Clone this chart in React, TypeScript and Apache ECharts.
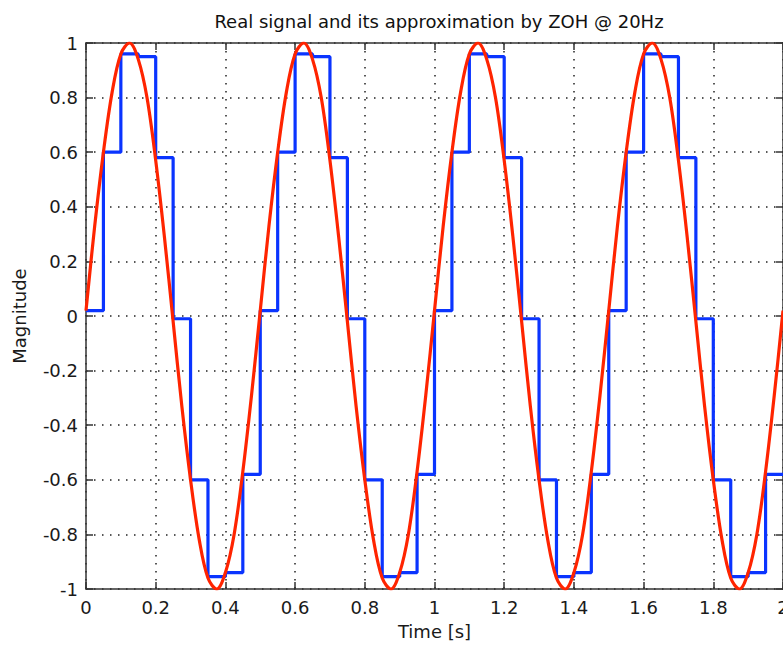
import React, { useEffect, useRef } from "react";
import * as echarts from "echarts";

const FONT = "DejaVu Sans";

const xTicks = { min: 0, max: 2, interval: 0.2 };
const yTicks = { min: -1, max: 1, interval: 0.2 };

// Zero-order-hold samples at 20 Hz (t = 0, 0.05, ... 2.0)
const zohTimes = [
  0, 0.05, 0.1, 0.15, 0.2, 0.25, 0.3, 0.35, 0.4, 0.45,
  0.5, 0.55, 0.6, 0.65, 0.7, 0.75, 0.8, 0.85, 0.9, 0.95,
  1.0, 1.05, 1.1, 1.15, 1.2, 1.25, 1.3, 1.35, 1.4, 1.45,
  1.5, 1.55, 1.6, 1.65, 1.7, 1.75, 1.8, 1.85, 1.9, 1.95, 2.0,
];
const zohValues = [
  0.02, 0.6, 0.96, 0.95, 0.58, -0.01, -0.6, -0.955, -0.94, -0.58,
  0.02, 0.6, 0.96, 0.95, 0.58, -0.01, -0.6, -0.955, -0.94, -0.58,
  0.02, 0.6, 0.96, 0.95, 0.58, -0.01, -0.6, -0.955, -0.94, -0.58,
  0.02, 0.6, 0.96, 0.95, 0.58, -0.01, -0.6, -0.955, -0.94, -0.58,
  -0.58,
];

// Real signal read every 0.025 s
const sigTimes = [
  0, 0.025, 0.05, 0.075, 0.1, 0.125, 0.15, 0.175, 0.2, 0.225,
  0.25, 0.275, 0.3, 0.325, 0.35, 0.375, 0.4, 0.425, 0.45, 0.475,
  0.5, 0.525, 0.55, 0.575, 0.6, 0.625, 0.65, 0.675, 0.7, 0.725,
  0.75, 0.775, 0.8, 0.825, 0.85, 0.875, 0.9, 0.925, 0.95, 0.975,
  1.0, 1.025, 1.05, 1.075, 1.1, 1.125, 1.15, 1.175, 1.2, 1.225,
  1.25, 1.275, 1.3, 1.325, 1.35, 1.375, 1.4, 1.425, 1.45, 1.475,
  1.5, 1.525, 1.55, 1.575, 1.6, 1.625, 1.65, 1.675, 1.7, 1.725,
  1.75, 1.775, 1.8, 1.825, 1.85, 1.875, 1.9, 1.925, 1.95, 1.975, 2.0,
];
const sigValues = [
  0.02, 0.33, 0.6, 0.82, 0.96, 1.0, 0.94, 0.8, 0.57, 0.29,
  -0.02, -0.33, -0.6, -0.82, -0.96, -1.0, -0.94, -0.8, -0.57, -0.29,
  0.02, 0.33, 0.6, 0.82, 0.96, 1.0, 0.94, 0.8, 0.57, 0.29,
  -0.02, -0.33, -0.6, -0.82, -0.96, -1.0, -0.94, -0.8, -0.57, -0.29,
  0.02, 0.33, 0.6, 0.82, 0.96, 1.0, 0.94, 0.8, 0.57, 0.29,
  -0.02, -0.33, -0.6, -0.82, -0.96, -1.0, -0.94, -0.8, -0.57, -0.29,
  0.02, 0.33, 0.6, 0.82, 0.96, 1.0, 0.94, 0.8, 0.57, 0.29,
  -0.02, -0.33, -0.6, -0.82, -0.96, -1.0, -0.94, -0.8, -0.57, -0.29,
  0.02,
];

const titleText = "Real signal and its approximation by ZOH @ 20Hz";
const xName = "Time [s]";
const yName = "Magnitude";

export default function App() {
  const ref = useRef<HTMLDivElement>(null);

  useEffect(() => {
    if (!ref.current) return;
    const chart = echarts.init(ref.current, undefined, { renderer: "svg" });

    const axisLine = { show: true, onZero: false, lineStyle: { color: "#333", width: 1.5 } };
    const axisTick = { show: true, inside: true, length: 7, lineStyle: { color: "#333", width: 1.5 } };
    const splitLine = {
      show: true,
      lineStyle: { color: "#222", width: 1.5, type: [1.5, 6.5] as any },
    };
    const labelStyle = { fontFamily: FONT, fontSize: 18, color: "#1a1a1a" };

    const zohData = zohTimes.map((t, i) => [t, zohValues[i]]);
    const sigData = sigTimes.map((t, i) => [t, sigValues[i]]);

    chart.setOption({
      animation: false,
      backgroundColor: "#ffffff",
      title: {
        text: titleText,
        left: 434,
        top: 7,
        textAlign: "center",
        textStyle: { fontFamily: FONT, fontSize: 18, fontWeight: "normal", color: "#111" },
      },
      grid: {
        left: 86,
        right: 0,
        top: 43,
        bottom: 61,
        containLabel: false,
        outerBoundsMode: "none",
      },
      xAxis: [
        {
          type: "value",
          position: "bottom",
          ...xTicks,
          axisLine,
          axisTick,
          splitLine,
          axisLabel: { ...labelStyle, margin: 9, hideOverlap: false },
          name: xName,
          nameLocation: "middle",
          nameGap: 33,
          nameTextStyle: labelStyle,
        },
        {
          type: "value",
          position: "top",
          ...xTicks,
          axisLine,
          axisTick,
          splitLine: { show: false },
          axisLabel: { show: false },
        },
      ],
      yAxis: [
        {
          type: "value",
          position: "left",
          ...yTicks,
          axisLine,
          axisTick,
          splitLine,
          axisLabel: { ...labelStyle, margin: 8 },
          name: yName,
          nameLocation: "middle",
          nameGap: 58,
          nameRotate: 90,
          nameTextStyle: labelStyle,
        },
        {
          type: "value",
          position: "right",
          ...yTicks,
          axisLine,
          axisTick,
          splitLine: { show: false },
          axisLabel: { show: false },
        },
      ],
      series: [
        {
          type: "line",
          name: "ZOH",
          data: zohData,
          step: "end",
          showSymbol: false,
          symbol: "none",
          lineStyle: { color: "#0a34ff", width: 3.2 },
          z: 3,
        },
        {
          type: "line",
          name: "Signal",
          data: sigData,
          smooth: 0.35,
          showSymbol: false,
          symbol: "none",
          lineStyle: { color: "#ff2400", width: 3.2 },
          z: 4,
        },
      ],
    });

    return () => chart.dispose();
  }, []);

  return (
    <div
      ref={ref}
      style={{ position: "fixed", left: 0, top: 0, width: 783, height: 650, background: "#fff" }}
    />
  );
}
